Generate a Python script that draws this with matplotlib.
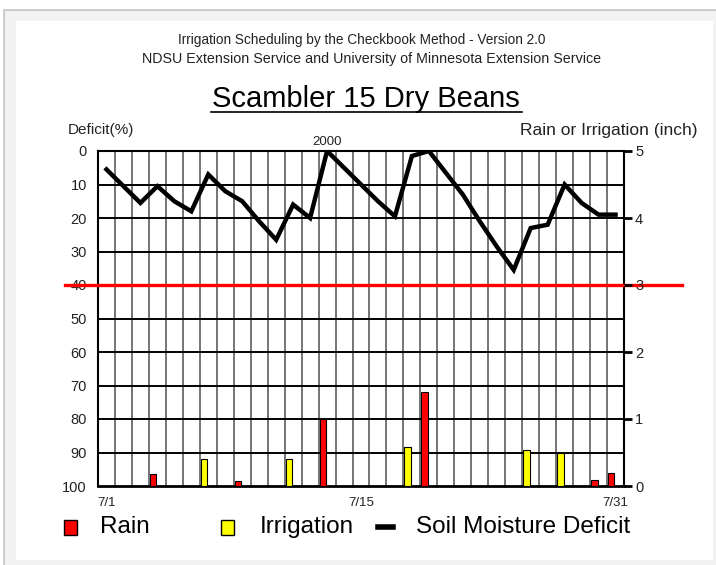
import matplotlib
matplotlib.use('Agg')
import matplotlib.pyplot as plt
from matplotlib.patches import Rectangle
from matplotlib.lines import Line2D
import numpy as np

plt.rcParams['font.family'] = ['Liberation Sans', 'DejaVu Sans']

# data
days = list(range(1, 32))
deficit = [5.5, 10.5, 15.5, 10.5, 15, 18, 7, 12, 15, 21, 26.5, 16, 20, 0, 5,
           10, 15, 19.5, 1.5, 0, 6.5, 13, 21, 28.5, 35.5, 23, 22, 10, 15.5, 19, 19]
rain_days = [4, 9, 14, 20, 30, 31]
rain = [0.18, 0.08, 1.0, 1.4, 0.09, 0.2]
irr_days = [7, 12, 19, 26, 28]
irrigation = [0.4, 0.4, 0.58, 0.53, 0.5]
allowable = 40
xtick_pos = [1, 16, 31]
xtick_lab = ['7/1', '7/15', '7/31']

W, H = 716, 565
fig = plt.figure(figsize=(W / 100, H / 100), dpi=100)
fig.patch.set_facecolor('white')

def fx(x):
    return x / W

def fy(y):
    return 1 - y / H

# screenshot frame
fig.patches.append(Rectangle((fx(4), -0.1), 1, fy(10) + 0.1, transform=fig.transFigure,
                             facecolor='#f2f2f2', edgecolor='#c4c4c4', lw=1.2, zorder=-10))
fig.patches.append(Rectangle((fx(16), fy(560)), fx(713 - 16), (560 - 21) / H,
                             transform=fig.transFigure, facecolor='white',
                             edgecolor='none', zorder=-9))

ax = fig.add_axes([fx(98), fy(486), fx(624 - 98), (486 - 151) / H])
ax.set_xlim(0.5, 31.5)
ax.set_ylim(100, 0)
ax.set_facecolor('none')

for x in np.arange(1.5, 31, 1):
    ax.axvline(x, color='#6a6a6a', lw=1.3, zorder=1)
for y in range(10, 100, 10):
    ax.axhline(y, color='black', lw=1.4, zorder=1)

ax.set_yticks(range(0, 101, 10))
ax.tick_params(axis='y', length=0, pad=8, labelsize=10.5, labelcolor='#222')
ax.set_xticks(xtick_pos)
ax.set_xticklabels(xtick_lab)
ax.tick_params(axis='x', length=0, pad=8, labelsize=9.5, labelcolor='#222')
for s in ax.spines.values():
    s.set_linewidth(1.5)
ax.spines['bottom'].set_linewidth(2)

ax.plot(days, deficit, color='black', lw=3.2, solid_joinstyle='miter', zorder=5)
ax.axhline(allowable, xmin=(65 - 98) / 526, xmax=(682 - 98) / 526, color='red',
           lw=2.4, clip_on=False, zorder=6)
ax.text(14, -0.8, '2000', ha='center', va='bottom', fontsize=9.5, color='#222')

ax2 = ax.twinx()
ax2.set_ylim(0, 5)
ax2.set_yticks(range(0, 6))
ax2.tick_params(axis='y', length=6, width=2, pad=2, labelsize=10.5, labelcolor='#222')
for s in ax2.spines.values():
    s.set_visible(False)
ax2.bar([d - 0.44 for d in rain_days], rain, width=0.38, align='edge',
        color='red', edgecolor='black', lw=0.8, zorder=3)
ax2.bar([d - 0.44 for d in irr_days], irrigation, width=0.38, align='edge',
        color='yellow', edgecolor='black', lw=0.8, zorder=3)

# titles
fig.text(fx(362), fy(40), 'Irrigation Scheduling by the Checkbook Method - Version 2.0',
         ha='center', va='center', fontsize=9.8, color='#222')
fig.text(fx(372), fy(59), 'NDSU Extension Service and University of Minnesota Extension Service',
         ha='center', va='center', fontsize=10.3, color='#222')
fig.text(fx(366), fy(99), 'Scambler 15 Dry Beans', ha='center', va='center',
         fontsize=21, color='black')
fig.add_artist(Line2D([fx(211), fx(522)], [fy(112), fy(112)], color='black', lw=1.2))
fig.text(fx(68), fy(130), 'Deficit(%)', ha='left', va='center', fontsize=11, color='#222')
fig.text(fx(698), fy(130), 'Rain or Irrigation (inch)', ha='right', va='center',
         fontsize=12.5, color='#222')

# legend
fig.patches.append(Rectangle((fx(64), fy(535)), fx(13), 15 / H, transform=fig.transFigure,
                             facecolor='red', edgecolor='black', lw=1))
fig.text(fx(100), fy(527), 'Rain', ha='left', va='center', fontsize=17.5)
fig.patches.append(Rectangle((fx(221), fy(535)), fx(13), 15 / H, transform=fig.transFigure,
                             facecolor='yellow', edgecolor='black', lw=1))
fig.text(fx(260), fy(527), 'Irrigation', ha='left', va='center', fontsize=17.5)
fig.add_artist(Line2D([fx(378), fx(393)], [fy(527), fy(527)], color='black', lw=4))
fig.text(fx(416), fy(527), 'Soil Moisture Deficit', ha='left', va='center', fontsize=17.5)

fig.savefig('out.png', dpi=100)
